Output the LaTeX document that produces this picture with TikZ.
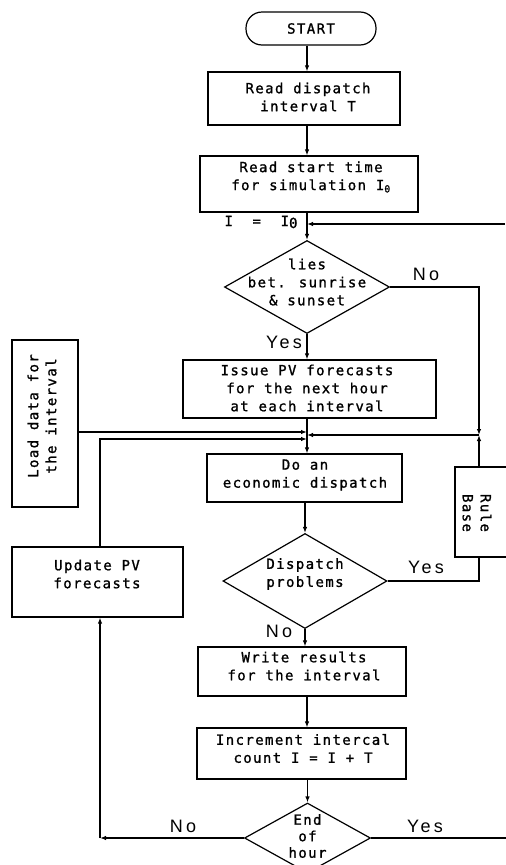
\documentclass[tikz,border=0pt]{standalone}
\usepackage{fontspec}
\setmainfont{DejaVu Sans Mono}[LetterSpace=10,FakeBold=1.2]
\newfontfamily\lblfont{Liberation Sans}[LetterSpace=18]
\usetikzlibrary{shapes.geometric,arrows.meta}
\begin{document}
\begin{tikzpicture}[x=1pt,y=-1pt,line width=1.2pt,
  every node/.style={font=\fontsize{14}{18}\selectfont},
  box/.style={draw, rectangle, inner sep=0pt},
  term/.style={draw, rectangle, rounded corners=16pt, inner sep=0pt, minimum width=130pt, minimum height=33pt},
  dia/.style={draw, diamond, inner sep=0pt},
  txt/.style={align=center, inner sep=0pt},
  lbl/.style={font=\lblfont\fontsize{18}{20}\selectfont, inner sep=0pt},
  arr/.style={-{Latex[length=6pt,width=4.5pt]}}]
\useasboundingbox (0,0) rectangle (506,865);
\coordinate (ax) at (307,0);
% nodes
\node[term] (start) at (311,28.5) {START};
\node[box, minimum width=192pt, minimum height=53pt] (b1) at (304,98.5) {};
\node[txt] (t1) at (308,97) {Read dispatch\\interval T};
\node[box, minimum width=218pt, minimum height=56pt] (b2) at (309,184) {};
\node[txt] (t2) at (311,177) {Read start time\\for simulation I\textsubscript{0}};
\node[txt] (i0) at (261,222) {I~~=~~I\raisebox{-2pt}{0}};
\node[dia, minimum width=165pt, minimum height=93pt] (d1) at (307,287) {};
\node[txt] (td1) at (307,282) {lies\\bet. sunrise\\\& sunset};
\node[box, minimum width=253pt, minimum height=58pt] (b3) at (309.5,389) {};
\node[txt] (t3) at (307,388) {Issue PV forecasts\\for the next hour\\at each interval};
\node[box, minimum width=195pt, minimum height=48pt] (b4) at (304.5,478) {};
\node[txt] (t4) at (305,475) {Do an\\economic dispatch};
\node[dia, minimum width=164pt, minimum height=95pt] (d2) at (305,581) {};
\node[txt] (td2) at (305,574) {Dispatch\\problems};
\node[box, minimum width=208pt, minimum height=49pt] (b5) at (302,671.5) {};
\node[txt] (t5) at (304,666) {Write results\\for the interval};
\node[box, minimum width=209pt, minimum height=51pt] (b6) at (301.5,753.5) {};
\node[txt] (t6) at (303,748.5) {Increment intercal\\count I = I + T};
\node[dia, minimum width=126pt, minimum height=70pt] (d3) at (307.5,838) {};
\node[txt, font=\fontsize{14}{16.5}\selectfont] (td3) at (307.5,836) {End\\of\\hour};
\node[box, minimum width=66pt, minimum height=167pt] (load) at (45,423.5) {};
\node[txt, rotate=90] (tl) at (42,416) {Load data for\\the interval};
\node[box, minimum width=171pt, minimum height=70pt] (upd) at (97.5,582) {};
\node[txt] (tu) at (97,574) {Update PV\\forecasts};
\node[box, minimum width=65pt, minimum height=90pt] (rule) at (487.5,512) {};
\node[txt, rotate=-90] (tr) at (477,513) {Rule\\Base};
% labels
\node[lbl] (n1) at (426,274) {No};
\node[lbl] (y1) at (284,342) {Yes};
\node[lbl] (y2) at (426,567) {Yes};
\node[lbl] (n2) at (279,631) {No};
\node[lbl] (n3) at (183,826) {No};
\node[lbl] (y3) at (425,826) {Yes};
% coordinates
\coordinate (rtop) at (505,224);
\coordinate (jr) at (479,435);
\coordinate (jl1) at (0,432);
\coordinate (lp) at (100,439);
\coordinate (lb) at (100,838);
\coordinate (rb) at (506,838);
% connectors
\draw[arr] (start.south -| ax) -- (b1.north -| ax);
\draw[arr] (b1.south -| ax) -- (b2.north -| ax);
\draw[arr] (b2.south -| ax) -- (d1.north);
\draw[arr] (rtop) -- (rtop -| ax);
\draw[arr] (d1.south) -- (d1.south |- b3.north);
\draw[arr] (d1.east) -| (jr);
\draw[arr] (rule.north -| jr) -- (jr);
\draw[arr] (jr) -- (jr -| ax);
\draw[arr] (b3.south -| ax) -- (b4.north -| ax);
\draw[arr] (load.east |- jl1) -- (jl1 -| ax);
\draw[arr] (upd.north -| lp) -- (lp) -- (lp -| ax);
\draw[arr] (d2.north |- b4.south) -- (d2.north);
\draw (d2.east) -| (rule.south -| jr);
\draw[arr] (d2.south) -- (d2.south |- b5.north);
\draw[arr] (b5.south -| ax) -- (b6.north -| ax);
\draw[arr] (b6.south -| d3.north) -- (d3.north);
\draw[arr] (d3.west) -- (lb);
\draw[arr] (lb) -- (upd.south -| lb);
\draw (d3.east) -- (rb);
\end{tikzpicture}
\end{document}
